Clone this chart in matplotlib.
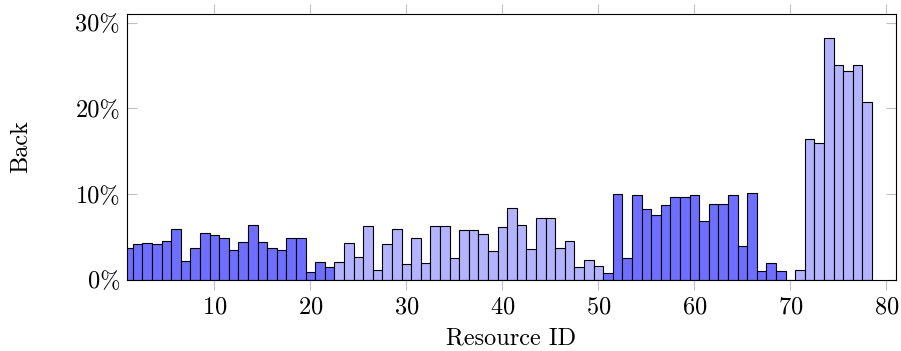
import numpy as np
import matplotlib
matplotlib.use('Agg')
import matplotlib.pyplot as plt
from matplotlib.ticker import FuncFormatter

plt.rcParams['font.family'] = 'cmr10'
plt.rcParams['mathtext.fontset'] = 'cm'
plt.rcParams['axes.formatter.use_mathtext'] = True

# resource ids 1..78, share of "back" in percent
ids = np.arange(1, 79)
back = [3.7, 4.2, 4.3, 4.2, 4.6, 6.0, 2.2, 3.7, 5.5, 5.25,
        4.9, 3.45, 4.4, 6.45, 4.4, 3.7, 3.45, 4.85, 4.9, 0.9,
        2.05, 1.55, 2.1, 4.3, 2.7, 6.3, 1.15, 4.2, 6.0, 1.85,
        4.9, 1.95, 6.3, 6.35, 2.55, 5.8, 5.8, 5.35, 3.4, 6.2,
        8.4, 6.4, 3.6, 7.25, 7.25, 3.7, 4.5, 1.5, 2.3, 1.6,
        0.8, 10.05, 2.6, 9.9, 8.3, 7.6, 8.75, 9.65, 9.7, 9.9,
        6.9, 8.9, 8.9, 9.9, 4.0, 10.1, 1.0, 2.0, 1.0, 0.0,
        1.2, 16.4, 16.0, 28.2, 25.0, 24.35, 25.0, 20.7]
# which group each resource belongs to (0 = dark, 1 = light)
group = [0] * 22 + [1] * 28 + [0] * 19 + [1] * 9

DARK = '#6f6fff'
LIGHT = '#b3b3ff'
colors = [DARK if g == 0 else LIGHT for g in group]

fig = plt.figure(figsize=(9.01, 3.51), dpi=100)
ax = fig.add_axes([0.141, 0.2023, 0.8535, 0.7578])

ax.bar(ids, back, width=1.0, color=colors, edgecolor='black', linewidth=0.8)

ax.set_xlim(0.9, 81.0)
ax.set_ylim(0, 31)
ax.set_xticks([10, 20, 30, 40, 50, 60, 70, 80])
ax.set_yticks([0, 10, 20, 30])
ax.yaxis.set_major_formatter(FuncFormatter(lambda v, p: f'{v:.0f}%'))
# x ticks stick out (top and bottom), y ticks point inward (left and right)
ax.tick_params(axis='x', direction='out', top=True, length=7.5, width=0.8,
               color='#c0c0c0', labelsize=17.5, pad=4)
ax.tick_params(axis='y', direction='in', right=True, length=7, width=0.8,
               color='#c0c0c0', labelsize=17.5, pad=5)
for s in ax.spines.values():
    s.set_linewidth(0.8)

ax.set_xlabel('Resource ID', fontsize=17.5, labelpad=7)
ax.set_ylabel('Back', fontsize=17.5, labelpad=31)

fig.savefig('out.png', dpi=100)
